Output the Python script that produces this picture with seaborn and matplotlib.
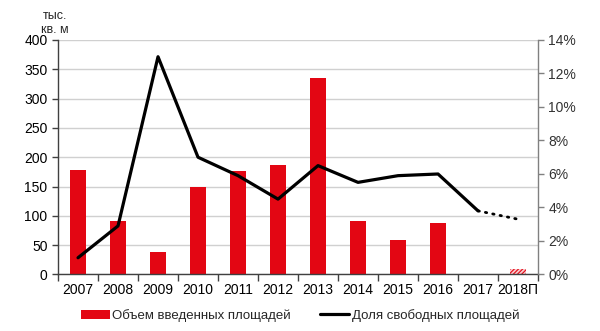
import matplotlib
matplotlib.use("Agg")
import matplotlib.pyplot as plt
import seaborn as sns
import pandas as pd
import numpy as np
from matplotlib.patches import Patch
from matplotlib.lines import Line2D

years = ["2007", "2008", "2009", "2010", "2011", "2012", "2013",
         "2014", "2015", "2016", "2017", "2018П"]
area = [178, 91, 39, 149, 176, 186, 335, 91, 58, 87, 0, 10]
vacancy = [1.0, 2.9, 13.0, 7.0, 5.9, 4.5, 6.5, 5.5, 5.9, 6.0, 3.8, 3.3]

red = "#E30613"

sns.set_theme(style="white")
plt.rcParams["font.family"] = ["Liberation Sans", "DejaVu Sans"]
plt.rcParams["hatch.linewidth"] = 0.8

df = pd.DataFrame({"year": years, "area": area})

fig = plt.figure(figsize=(6.0, 3.31), dpi=100)
ax = fig.add_axes([0.0967, 0.1707, 0.80, 0.7085])

sns.barplot(data=df, x="year", y="area", color=red, width=0.4,
            saturation=1, ax=ax, linewidth=0)

# forecast bar drawn hatched
fc = ax.patches[-1]
fc.set_facecolor("#F8C8CB")
fc.set_edgecolor(red)
fc.set_hatch("////////")
fc.set_linewidth(0)

ax.set_ylim(0, 400)
ax.set_yticks(np.arange(0, 401, 50))
ax.set_xlim(-0.5, len(years) - 0.5)
ax.set_xlabel("")
ax.set_ylabel("")
ax.yaxis.grid(True, color="#D0D0D0", linewidth=1)
ax.set_axisbelow(True)

ax.set_xticks(np.arange(len(years)))
ax.set_xticklabels(years)
ax.set_xticks(np.arange(-0.5, len(years)), minor=True)
ax.tick_params(axis="x", which="major", length=0, labelsize=10, pad=6, colors="black")
ax.tick_params(axis="x", which="minor", length=5, width=1, color="#404040", bottom=True, direction="out")
ax.tick_params(axis="y", length=4, width=1, color="#404040", labelsize=10, left=True,
               direction="out", colors="black")

for s in ["top", "right"]:
    ax.spines[s].set_visible(False)
ax.spines["left"].set_color("#404040")
ax.spines["bottom"].set_color("#404040")
ax.spines["left"].set_linewidth(1)
ax.spines["bottom"].set_linewidth(1)

ax2 = ax.twinx()
xs = np.arange(len(years))
line_df = pd.DataFrame({"x": xs[:-1], "v": vacancy[:-1]})
sns.lineplot(data=line_df, x="x", y="v", color="black", linewidth=2.3, ax=ax2)
ax2.plot(xs[-2:], vacancy[-2:], color="black", linewidth=2.0, linestyle=(0, (0.5, 2.2)),
         dash_capstyle="round")
ax2.set_ylim(0, 14)
ax2.set_yticks(np.arange(0, 15, 2))
ax2.set_yticklabels([f"{v}%" for v in range(0, 15, 2)])
ax2.set_xlabel("")
ax2.set_ylabel("")
ax2.grid(False)
for s in ["top", "left", "bottom"]:
    ax2.spines[s].set_visible(False)
ax2.spines["right"].set_color("#808080")
ax2.spines["right"].set_linewidth(1)
ax2.tick_params(axis="y", length=4, width=1, color="#808080", labelsize=10, right=True,
                direction="out", colors="#333333")
ax2.set_xlim(-0.5, len(years) - 0.5)

fig.text(0.092, 0.953, "тыс.", ha="center", va="center", fontsize=9)
fig.text(0.092, 0.910, "кв. м", ha="center", va="center", fontsize=9)

handles = [Patch(facecolor=red, edgecolor="none"),
           Line2D([0], [0], color="black", linewidth=2.3)]
fig.legend(handles, ["Объем введенных площадей", "Доля свободных площадей"],
           loc="lower center", bbox_to_anchor=(0.5, -0.008), ncol=2, frameon=False,
           fontsize=9.5, handlelength=2.2, handletextpad=0.2, columnspacing=2.2)

fig.savefig("out.png", dpi=100)
